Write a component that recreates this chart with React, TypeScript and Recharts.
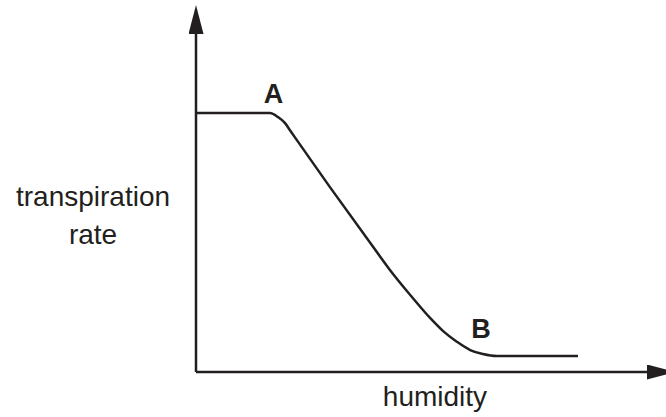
import { LineChart, Line, XAxis, YAxis, ReferenceDot, Label } from 'recharts'

// schematic: transpiration rate falls as humidity rises (A = plateau end, B = floor start)
const INK = '#231f20'
const FONT = '"Liberation Sans", Arial, Helvetica, sans-serif'

const humidity = [0, 16.4, 18.2, 19.7, 20.8, 29.7, 40.1, 43.0, 47.5, 51.9, 54.8, 57.9, 60.8, 63.6, 66.7, 84.7]
const rate = [76.6, 76.6, 75.4, 73.7, 71.6, 54.7, 35.5, 30.2, 22.8, 16.0, 12.1, 8.9, 6.5, 5.3, 4.7, 4.7]

const pointA = { humidity: 17.2, rate: 76.6 }
const pointB = { humidity: 63.2, rate: 4.7 }

const data = humidity.map((h, i) => ({ humidity: h, rate: rate[i] }))

export default function App() {
  return (
    <div style={{ width: 666, height: 417, fontFamily: FONT, background: '#fff' }}>
      <style>{`body { margin: 0; }`}</style>
      <LineChart
        width={666}
        height={417}
        data={data}
        margin={{ top: 34, right: 19, bottom: 44, left: 195 }}
      >
        <defs>
          <marker
            id="arrow"
            markerUnits="userSpaceOnUse"
            markerWidth={29}
            markerHeight={15}
            refX={0}
            refY={7.5}
            orient="auto-start-reverse"
          >
            <path d="M0,0 L29,7.5 L0,15 Z" fill={INK} />
          </marker>
        </defs>
        <XAxis
          type="number"
          dataKey="humidity"
          domain={[0, 100]}
          height={1}
          tick={false}
          tickLine={false}
          axisLine={{ stroke: INK, strokeWidth: 2.5, markerEnd: 'url(#arrow)' }}
        >
          <Label
            content={() => (
              <text x={435} y={406} textAnchor="middle" fill={INK} fontSize={28} fontFamily={FONT}>
                humidity
              </text>
            )}
          />
        </XAxis>
        <YAxis
          type="number"
          domain={[0, 100]}
          width={1}
          tick={false}
          tickLine={false}
          axisLine={{ stroke: INK, strokeWidth: 2.5, markerStart: 'url(#arrow)' }}
        >
          <Label
            content={() => (
              <text textAnchor="middle" fill={INK} fontSize={28} fontFamily={FONT}>
                <tspan x={93} y={206}>transpiration</tspan>
                <tspan x={93} y={244}>rate</tspan>
              </text>
            )}
          />
        </YAxis>
        <Line
          type="monotone"
          dataKey="rate"
          stroke={INK}
          strokeWidth={2.5}
          dot={false}
          isAnimationActive={false}
        />
        <ReferenceDot
          x={pointA.humidity}
          y={pointA.rate}
          r={0}
          fillOpacity={0}
          strokeOpacity={0}
          label={{ value: 'A', position: 'top', offset: 10, fill: INK, fontSize: 27, fontWeight: 'bold' }}
        />
        <ReferenceDot
          x={pointB.humidity}
          y={pointB.rate}
          r={0}
          fillOpacity={0}
          strokeOpacity={0}
          label={{ value: 'B', position: 'top', offset: 18, fill: INK, fontSize: 27, fontWeight: 'bold' }}
        />
      </LineChart>
    </div>
  )
}
